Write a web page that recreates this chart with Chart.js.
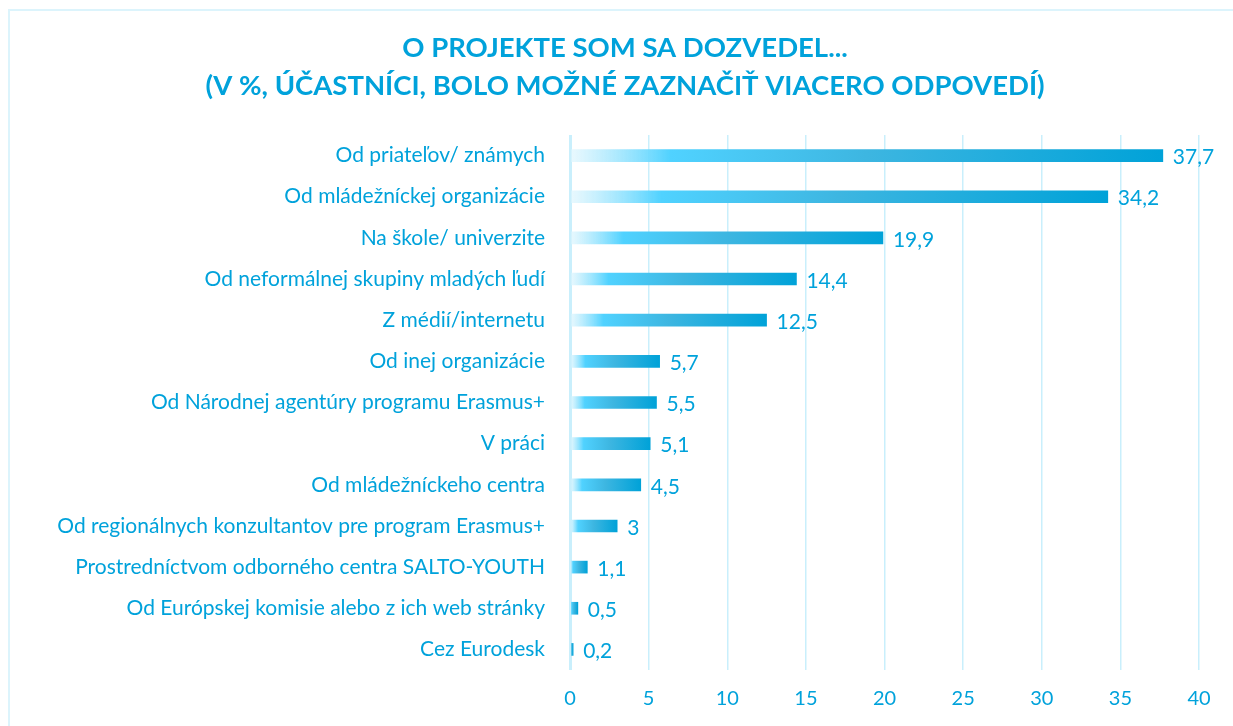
<!DOCTYPE html>
<html>
<head>
<meta charset="utf-8">
<script src="https://cdn.jsdelivr.net/npm/chart.js@4/dist/chart.umd.min.js"></script>
<style>
  body { margin: 0; background: #fff; }
  #wrap { position: relative; width: 1233px; height: 726px; }
  #frame {
    position: absolute; left: 8px; top: 9px; width: 1240px; height: 740px;
    border: 2px solid #dcf4fc; pointer-events: none;
  }
</style>
</head>
<body>
<div id="wrap">
  <canvas id="myChart" width="1233" height="726"></canvas>
  <div id="frame"></div>
</div>
<script>
  // data
  const categories = [
    "Od priateľov/ známych",
    "Od mládežníckej organizácie",
    "Na škole/ univerzite",
    "Od neformálnej skupiny mladých ľudí",
    "Z médií/internetu",
    "Od inej organizácie",
    "Od Národnej agentúry programu Erasmus+",
    "V práci",
    "Od mládežníckeho centra",
    "Od regionálnych konzultantov pre program Erasmus+",
    "Prostredníctvom odborného centra SALTO-YOUTH",
    "Od Európskej komisie alebo z ich web stránky",
    "Cez Eurodesk"
  ];
  const values = [37.7, 34.2, 19.9, 14.4, 12.5, 5.7, 5.5, 5.1, 4.5, 3, 1.1, 0.5, 0.2];
  const axisMax = 40;
  const axisStep = 5;
  const titleLines = [
    "O PROJEKTE SOM SA DOZVEDEL...",
    "(V %, ÚČASTNÍCI, BOLO MOŽNÉ ZAZNAČIŤ VIACERO ODPOVEDÍ)"
  ];

  const blue = "#00a2db";
  const fontFamily = "Lato, 'Open Sans', sans-serif";

  // fade from white to cyan to dark blue along each bar
  function barGradient(ctx) {
    const chart = ctx.chart;
    if (!chart.chartArea) return blue;
    const x = chart.scales.x;
    const x0 = x.getPixelForValue(0);
    const x1 = x.getPixelForValue(ctx.raw);
    if (x1 - x0 < 1) return blue;
    const g = chart.ctx.createLinearGradient(x0, 0, x1, 0);
    g.addColorStop(0, "rgba(225,246,253,0.7)");
    g.addColorStop(0.17, "#50d2ff");
    g.addColorStop(0.5, "#3db6e1");
    g.addColorStop(1, "#00a2d8");
    return g;
  }

  // title drawn by hand so it can sit off-centre like the original
  const titleText = {
    id: "titleText",
    afterDraw(chart) {
      const c = chart.ctx;
      c.save();
      c.font = "bold 27.5px " + fontFamily;
      c.fillStyle = blue;
      c.textAlign = "center";
      c.textBaseline = "middle";
      c.fillText(titleLines[0], 625, 48);
      c.fillText(titleLines[1], 625, 86);
      c.restore();
    }
  };

  // value labels at the end of the bars
  const valueLabels = {
    id: "valueLabels",
    afterDatasetsDraw(chart) {
      const c = chart.ctx;
      const meta = chart.getDatasetMeta(0);
      c.save();
      c.font = "21px " + fontFamily;
      c.fillStyle = blue;
      c.textBaseline = "middle";
      c.textAlign = "left";
      meta.data.forEach((bar, i) => {
        const txt = String(values[i]).replace(".", ",");
        c.fillText(txt, bar.x + 10, bar.y + 2);
      });
      c.restore();
    }
  };

  new Chart(document.getElementById("myChart"), {
    type: "bar",
    data: {
      labels: categories,
      datasets: [{
        data: values,
        backgroundColor: barGradient,
        barThickness: 12,
        borderWidth: 0
      }]
    },
    options: {
      indexAxis: "y",
      responsive: false,
      animation: false,
      layout: { padding: { left: 0, right: 34, top: 135, bottom: 0 } },
      plugins: {
        legend: { display: false },
        tooltip: { enabled: false },
        title: { display: false }
      },
      scales: {
        x: {
          min: 0,
          max: axisMax,
          ticks: {
            stepSize: axisStep,
            color: blue,
            padding: 17,
            font: { family: fontFamily, size: 20 }
          },
          grid: {
            color: "#c9effc",
            lineWidth: (ctx) => (ctx.tick && ctx.tick.value === 0 ? 3 : 1.5),
            drawTicks: false
          },
          border: { display: false },
          afterFit(scale) { scale.height = 56; }
        },
        y: {
          ticks: {
            color: blue,
            padding: 17,
            font: { family: fontFamily, size: 21 }
          },
          grid: { display: false },
          border: { display: false },
          afterFit(scale) { scale.width = 570; }
        }
      }
    },
    plugins: [valueLabels, titleText]
  });
</script>
</body>
</html>
